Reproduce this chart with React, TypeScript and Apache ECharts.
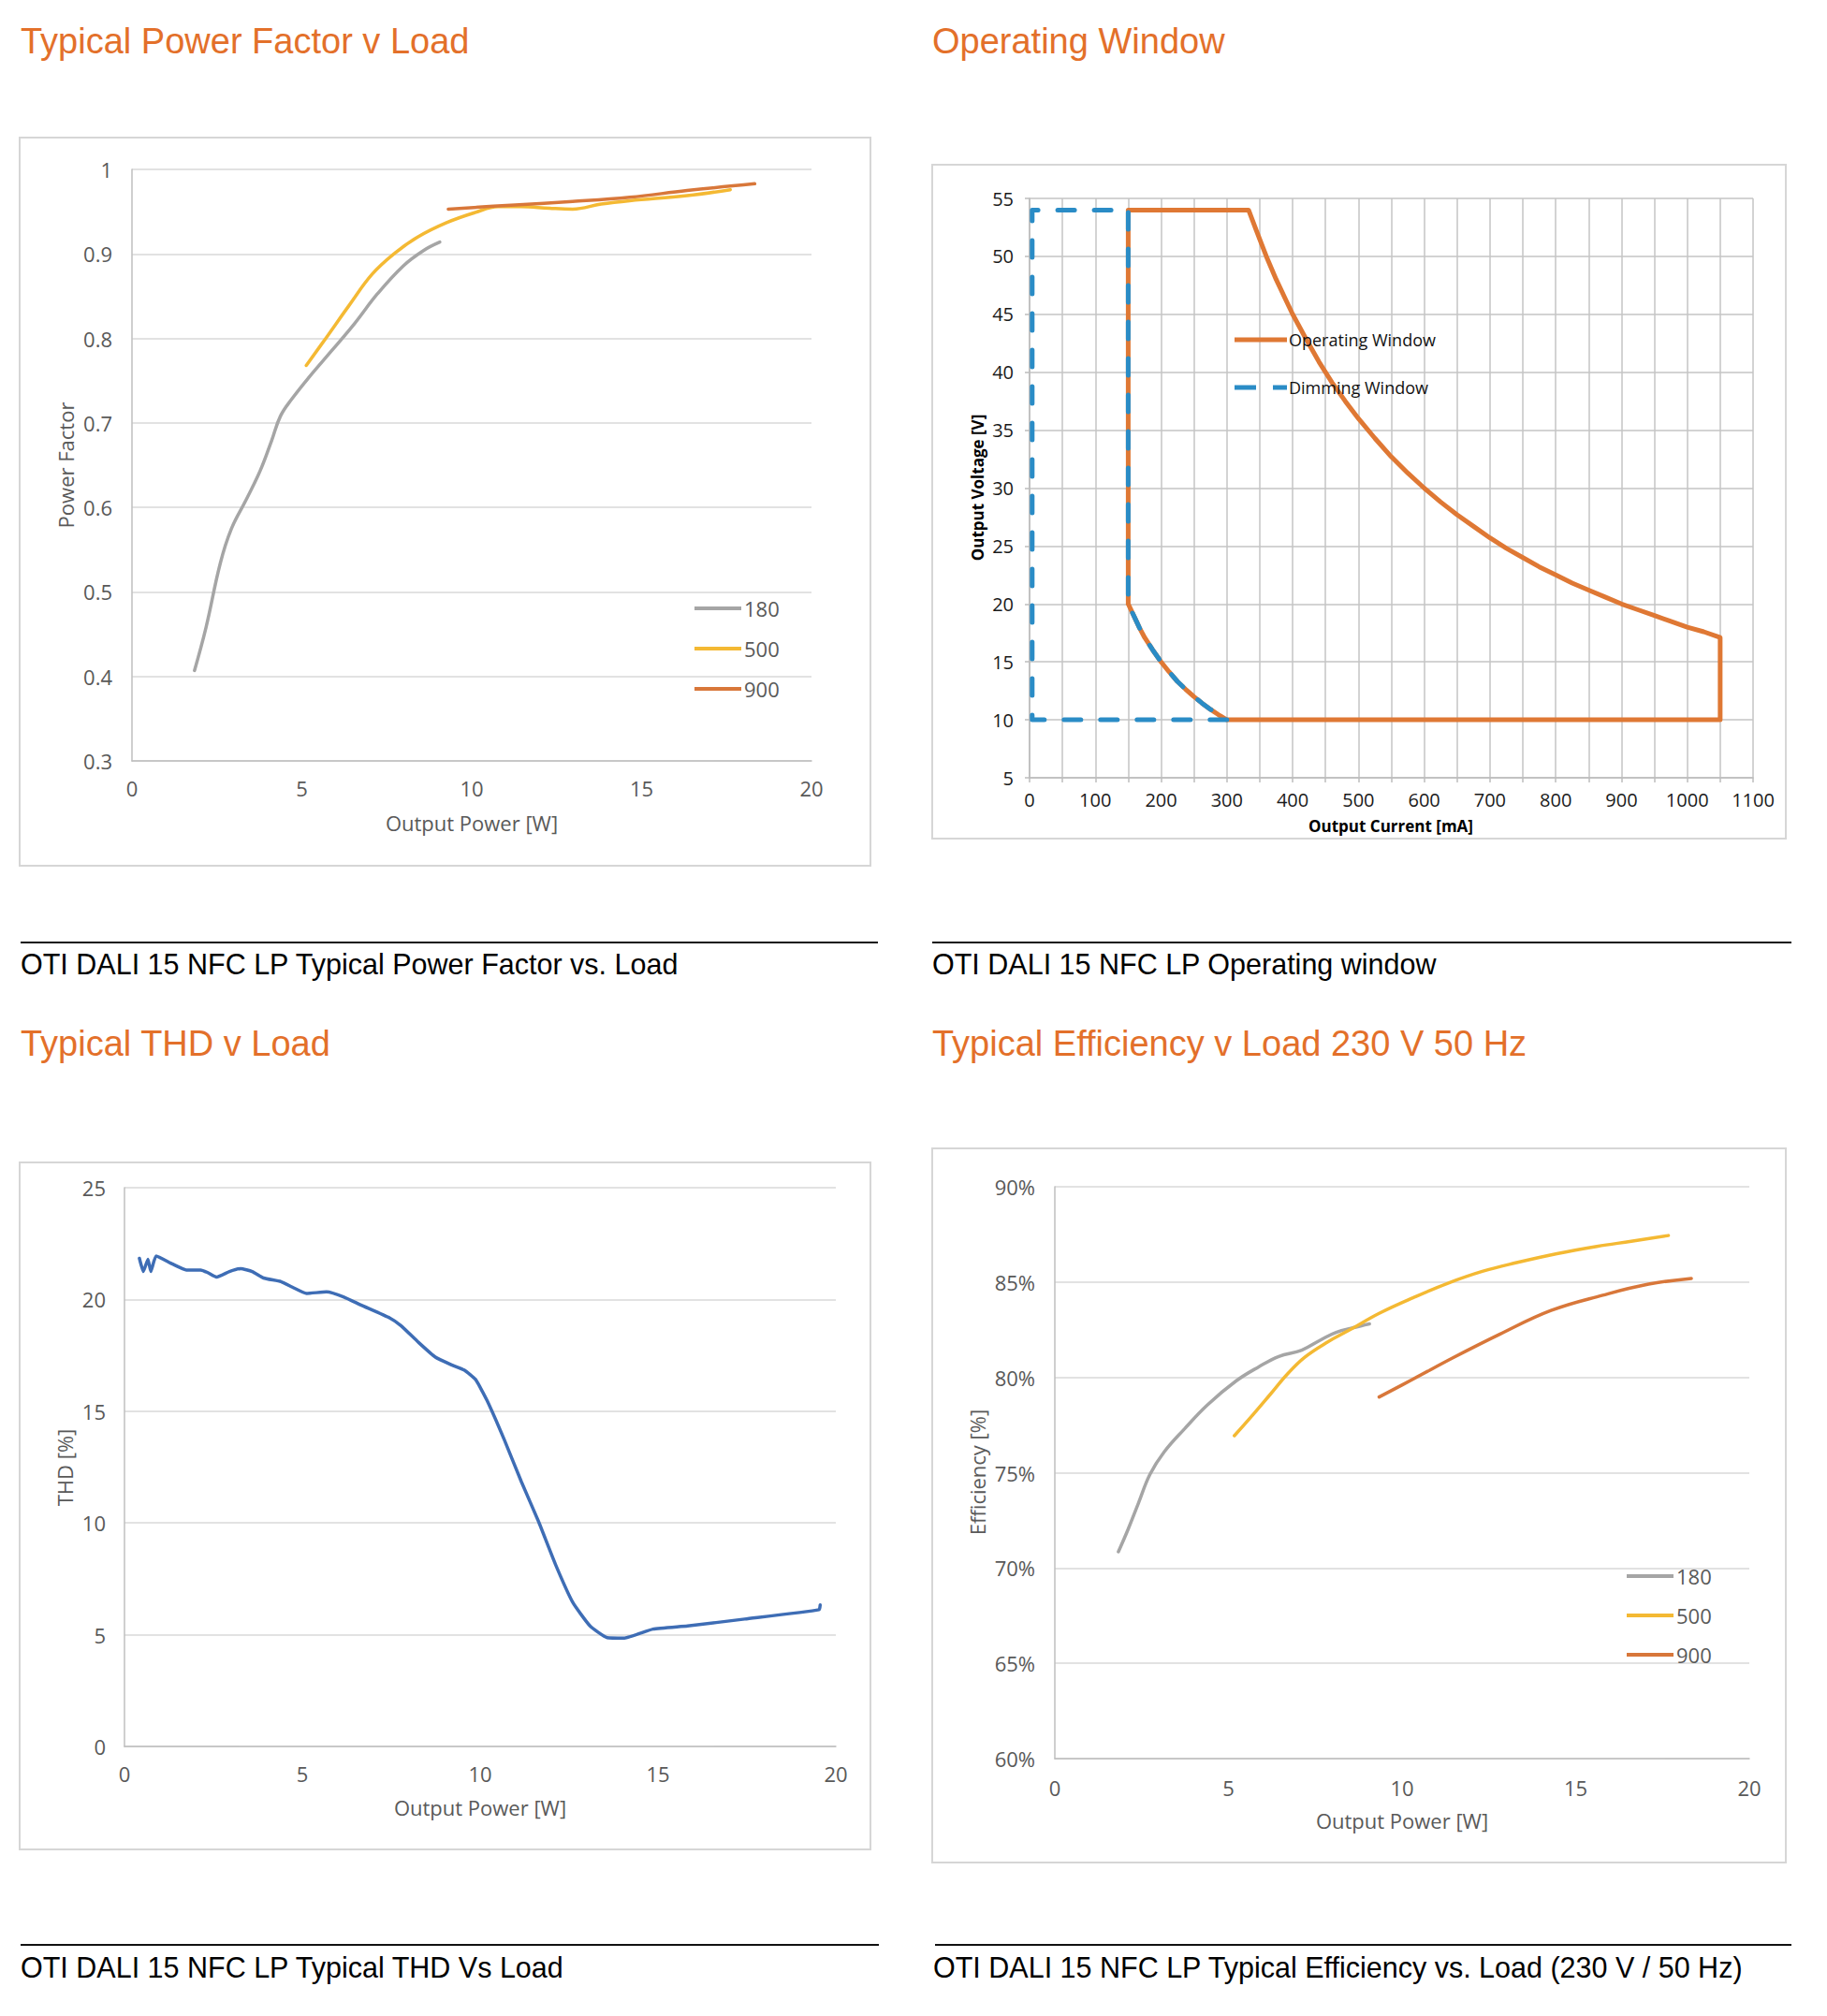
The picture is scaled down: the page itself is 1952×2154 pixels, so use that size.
import React, { useEffect, useRef } from "react";
import * as echarts from "echarts";

// ---------- DATA ----------
// Power factor vs output power [W]
const pf180 = [[1.84, 0.407], [2.18, 0.458], [2.6, 0.534], [2.93, 0.575], [3.36, 0.609], [3.78, 0.644], [4.11, 0.679], [4.37, 0.708], [4.7, 0.728], [5.21, 0.754], [5.89, 0.786], [6.56, 0.818], [7.23, 0.853], [7.99, 0.886], [8.58, 0.904], [9.06, 0.914]];
const pf500 = [[5.13, 0.768], [5.72, 0.801], [6.39, 0.839], [7.07, 0.876], [7.74, 0.901], [8.41, 0.92], [9.26, 0.937], [10.1, 0.949], [10.78, 0.956], [11.45, 0.956], [12.29, 0.954], [12.97, 0.953], [13.81, 0.959], [14.65, 0.963], [16.34, 0.969], [17.61, 0.976]];
const pf900 = [[9.31, 0.953], [11.28, 0.958], [12.97, 0.962], [14.65, 0.967], [16.34, 0.975], [18.33, 0.983]];

// Operating window: output current [mA] vs output voltage [V]
const operatingWindow = [[150, 20], [150, 54], [333, 54], [345, 52.2], [360, 50], [375, 48], [390, 46.2], [400, 45], [420, 42.9], [440, 40.9], [460, 39.1], [480, 37.5], [500, 36], [525, 34.3], [550, 32.7], [575, 31.3], [600, 30], [625, 28.8], [650, 27.7], [675, 26.7], [700, 25.7], [725, 24.8], [750, 24], [775, 23.2], [800, 22.5], [825, 21.8], [850, 21.2], [875, 20.6], [900, 20], [925, 19.5], [950, 19], [975, 18.5], [1000, 18], [1025, 17.6], [1050, 17.1], [1050, 10], [300, 10], [287, 10.45], [275, 10.9], [262, 11.45], [250, 12], [237, 12.65], [225, 13.3], [212, 14.15], [200, 15], [187, 16.05], [175, 17.1], [167, 17.95], [160, 18.8], [150, 20]];
const dimmingWindow = [[300, 10], [4, 10], [4, 54], [150, 54], [150, 20], [160, 18.8], [167, 17.95], [175, 17.1], [187, 16.05], [200, 15], [212, 14.15], [225, 13.3], [237, 12.65], [250, 12], [262, 11.45], [275, 10.9], [287, 10.45], [300, 10]];

// THD [%] vs output power [W]
const thd = [[0.42, 21.84], [0.53, 21.25], [0.66, 21.8], [0.74, 21.25], [0.89, 21.94], [1.34, 21.59], [1.74, 21.32], [2.14, 21.32], [2.33, 21.21], [2.59, 21.0], [2.95, 21.25], [3.27, 21.38], [3.59, 21.25], [3.91, 20.96], [4.4, 20.8], [4.72, 20.55], [5.12, 20.27], [5.68, 20.34], [6.17, 20.11], [6.65, 19.75], [7.46, 19.17], [7.78, 18.82], [8.26, 18.09], [8.74, 17.42], [9.23, 17.05], [9.55, 16.84], [9.87, 16.42], [10.19, 15.49], [10.68, 13.72], [11.16, 11.84], [11.64, 10.07], [12.13, 8.1], [12.61, 6.43], [13.09, 5.39], [13.57, 4.87], [14.06, 4.85], [14.86, 5.25], [15.83, 5.39], [17.44, 5.7], [19.53, 6.12], [19.56, 6.33]];

// Efficiency [%] vs output power [W]
const eff180 = [[1.83, 70.85], [2.11, 72.03], [2.41, 73.41], [2.74, 74.91], [3.15, 76.09], [3.73, 77.29], [4.39, 78.55], [5.21, 79.8], [5.87, 80.55], [6.45, 81.1], [7.11, 81.43], [7.69, 82.0], [8.1, 82.36], [8.6, 82.61], [9.06, 82.81]];
const eff500 = [[5.17, 76.94], [5.71, 78.05], [6.2, 79.1], [6.7, 80.18], [7.19, 81.05], [7.85, 81.85], [8.51, 82.51], [9.34, 83.36], [10.33, 84.19], [11.32, 84.94], [12.31, 85.56], [13.3, 86.02], [14.46, 86.49], [15.61, 86.87], [16.6, 87.14], [17.67, 87.44]];
const eff900 = [[9.34, 78.97], [10.33, 79.92], [11.49, 81.05], [12.81, 82.26], [14.29, 83.51], [15.78, 84.31], [17.1, 84.89], [18.33, 85.19]];

const loadNames = ["180", "500", "900"];
const windowNames = ["Operating Window", "Dimming Window"];

const sectionTitles = ["Typical Power Factor v Load", "Operating Window", "Typical THD v Load", "Typical Efficiency v Load 230 V 50 Hz"];
const captions = ["OTI DALI 15 NFC LP Typical Power Factor vs. Load", "OTI DALI 15 NFC LP Operating window", "OTI DALI 15 NFC LP Typical THD Vs Load", "OTI DALI 15 NFC LP Typical Efficiency vs. Load (230 V / 50 Hz)"];
const axisTitles = ["Power Factor", "Output Power [W]", "Output Voltage [V]", "Output Current [mA]", "THD [%]", "Output Power [W]", "Efficiency [%]", "Output Power [W]"];

// ---------- STYLE ----------
const W = 1952;
const H = 2154;
const C_GRAY = "#A5A5A5";
const C_YEL = "#F4B933";
const C_ORG = "#D8773A";
const C_OW = "#DF7834";
const C_DW = "#2A8CC6";
const C_THD = "#3E6DB5";
const TITLE_ORANGE = "#E3702A";
const SANS = "'Open Sans', 'Noto Sans', sans-serif";
const ARIAL = "'Liberation Sans', Arial, sans-serif";
const GRID = "#D9D9D9";
const AXIS = "#BFBFBF";
const LBL = "#595959";

function excelX(gridIndex: number, max: number, margin: number) {
  return {
    type: "value", gridIndex, min: 0, max, interval: 5,
    axisLine: { show: true, lineStyle: { color: AXIS, width: 1.5 } },
    axisTick: { show: false },
    splitLine: { show: false },
    axisLabel: { color: LBL, fontSize: 22, fontFamily: SANS, margin },
  };
}
function excelY(gridIndex: number, min: number, max: number, interval: number, margin: number, formatter: any) {
  return {
    type: "value", gridIndex, min, max, interval,
    axisLine: { show: true, lineStyle: { color: AXIS, width: 1.5 } },
    axisTick: { show: false },
    splitLine: { show: true, lineStyle: { color: GRID, width: 1.5 } },
    axisLabel: { color: LBL, fontSize: 22, fontFamily: SANS, margin, formatter },
  };
}
function lineSeries(name: string, data: number[][], color: string, xi: number, extra: any = {}) {
  return {
    type: "line", name, data, xAxisIndex: xi, yAxisIndex: xi,
    showSymbol: false, symbol: "none", smooth: 0.4,
    color, itemStyle: { color },
    lineStyle: { color, width: 3.5, cap: "round", join: "round" },
    ...extra,
  };
}
function txt(text: string, x: number, y: number, fontSize: number, fill: string, family: string, align = "left", rotation = 0, fontWeight = "normal") {
  return {
    type: "text", x, y, rotation, silent: true,
    style: { text, fontSize, fill, fontFamily: family, fontWeight, align, verticalAlign: "middle" },
  };
}
function box(x1: number, y1: number, x2: number, y2: number) {
  return { type: "rect", silent: true, shape: { x: x1, y: y1, width: x2 - x1, height: y2 - y1 }, style: { fill: "none", stroke: "#D6D6D6", lineWidth: 2 } };
}
function rule(x1: number, x2: number, y: number) {
  return { type: "line", silent: true, shape: { x1, y1: y, x2, y2: y }, style: { stroke: "#111", lineWidth: 2 } };
}

export default function App() {
  const ref = useRef<HTMLDivElement>(null);
  useEffect(() => {
    if (!ref.current) return;
    const chart = echarts.init(ref.current, undefined, { renderer: "svg" });
    const pfFmt = (v: number) => String(+v.toFixed(1));
    const plainFmt = (v: number) => String(v);
    const option: any = {
      animation: false,
      backgroundColor: "#ffffff",
      grid: [
        { left: 141, top: 181, width: 726, height: 632 },
        { left: 1100, top: 212, width: 773, height: 619 },
        { left: 133, top: 1269, width: 760, height: 597 },
        { left: 1127, top: 1268, width: 742, height: 611 },
      ],
      xAxis: [
        excelX(0, 20, 18),
        {
          type: "value", gridIndex: 1, min: 0, max: 1100, interval: 100,
          axisLine: { show: true, lineStyle: { color: "#BDBDBD", width: 1.5 } },
          axisTick: { show: true, length: 5, lineStyle: { color: "#BDBDBD", width: 1.5 } },
          minorTick: { show: true, splitNumber: 2, length: 5, lineStyle: { color: "#BDBDBD", width: 1.5 } },
          splitLine: { show: true, lineStyle: { color: "#C4C4C4", width: 1.5 } },
          minorSplitLine: { show: true, lineStyle: { color: "#C4C4C4", width: 1.5 } },
          axisLabel: { color: "#1a1a1a", fontSize: 20, fontFamily: SANS, margin: 13, formatter: plainFmt },
        },
        excelX(2, 20, 18),
        excelX(3, 20, 20),
      ],
      yAxis: [
        excelY(0, 0.3, 1, 0.1, 21, pfFmt),
        {
          type: "value", gridIndex: 1, min: 5, max: 55, interval: 5,
          axisLine: { show: true, lineStyle: { color: "#BDBDBD", width: 1.5 } },
          axisTick: { show: true, length: 5, lineStyle: { color: "#BDBDBD", width: 1.5 } },
          splitLine: { show: true, lineStyle: { color: "#C4C4C4", width: 1.5 } },
          axisLabel: { color: "#1a1a1a", fontSize: 20, fontFamily: SANS, margin: 17, formatter: plainFmt },
        },
        excelY(2, 0, 25, 5, 20, plainFmt),
        excelY(3, 60, 90, 5, 21, "{value}%"),
      ],
      legend: [
        {
          orient: "vertical", left: 742, top: 639, padding: 0, itemWidth: 50, itemHeight: 4, itemGap: 21,
          icon: "rect", data: loadNames, selectedMode: false,
          textStyle: { fontSize: 22, color: LBL, fontFamily: SANS, padding: [0, 0, 0, -2] },
        },
        {
          orient: "vertical", left: 1319, top: 354, padding: 0, itemWidth: 56, itemHeight: 5, itemGap: 33, selectedMode: false,
          data: [
            { name: windowNames[0], icon: "rect" },
            { name: windowNames[1], icon: "path://M0,0H23V5H0Z M41,0H56V5H41Z" },
          ],
          textStyle: { fontSize: 18, color: "#111", fontFamily: SANS, padding: [0, 0, 0, -3] },
        },
        {
          orient: "vertical", left: 1738, top: 1673, padding: 0, itemWidth: 50, itemHeight: 4, itemGap: 20,
          icon: "rect", data: loadNames, selectedMode: false,
          textStyle: { fontSize: 22, color: LBL, fontFamily: SANS, padding: [0, 0, 0, -2] },
        },
      ],
      series: [
        lineSeries(loadNames[0], pf180, C_GRAY, 0),
        lineSeries(loadNames[1], pf500, C_YEL, 0),
        lineSeries(loadNames[2], pf900, C_ORG, 0),
        lineSeries(windowNames[0], operatingWindow, C_OW, 1, { smooth: false, lineStyle: { color: C_OW, width: 5, join: "round", cap: "round" } }),
        lineSeries(windowNames[1], dimmingWindow, C_DW, 1, { smooth: false, z: 3, lineStyle: { color: C_DW, width: 5, type: [18, 21], cap: "round", join: "round" } }),
        lineSeries("THD", thd, C_THD, 2, { smooth: 0.15 }),
        lineSeries(loadNames[0], eff180, C_GRAY, 3),
        lineSeries(loadNames[1], eff500, C_YEL, 3),
        lineSeries(loadNames[2], eff900, C_ORG, 3),
      ],
      graphic: [
        box(21, 147, 930, 925),
        box(996, 176, 1908, 896),
        box(21, 1242, 930, 1976),
        box(996, 1227, 1908, 1990),
        rule(22, 938, 1007),
        rule(996, 1914, 1007),
        rule(22, 939, 2078),
        rule(999, 1914, 2078),
        txt(sectionTitles[0], 22, 44, 38, TITLE_ORANGE, ARIAL),
        txt(sectionTitles[1], 996, 44, 38, TITLE_ORANGE, ARIAL),
        txt(sectionTitles[2], 22, 1115, 38, TITLE_ORANGE, ARIAL),
        txt(sectionTitles[3], 996, 1115, 38, TITLE_ORANGE, ARIAL),
        txt(captions[0], 22, 1030, 30.5, "#000", ARIAL),
        txt(captions[1], 996, 1030, 30.5, "#000", ARIAL),
        txt(captions[2], 22, 2102, 30.5, "#000", ARIAL),
        txt(captions[3], 997, 2102, 30.5, "#000", ARIAL),
        txt(axisTitles[0], 70, 497, 22, LBL, SANS, "center", Math.PI / 2),
        txt(axisTitles[1], 504, 879, 22, LBL, SANS, "center"),
        txt(axisTitles[2], 1044, 521, 17, "#000", SANS, "center", Math.PI / 2, "bold"),
        txt(axisTitles[3], 1486, 882, 17, "#000", SANS, "center", 0, "bold"),
        txt(axisTitles[4], 69, 1568, 22, LBL, SANS, "center", Math.PI / 2),
        txt(axisTitles[5], 513, 1931, 22, LBL, SANS, "center"),
        txt(axisTitles[6], 1044, 1573, 22, LBL, SANS, "center", Math.PI / 2),
        txt(axisTitles[7], 1498, 1945, 22, LBL, SANS, "center"),
      ],
    };
    chart.setOption(option);
    return () => chart.dispose();
  }, []);
  return (
    <div
      ref={ref}
      style={{ position: "absolute", left: 0, top: 0, width: W, height: H, background: "#fff" }}
    />
  );
}
